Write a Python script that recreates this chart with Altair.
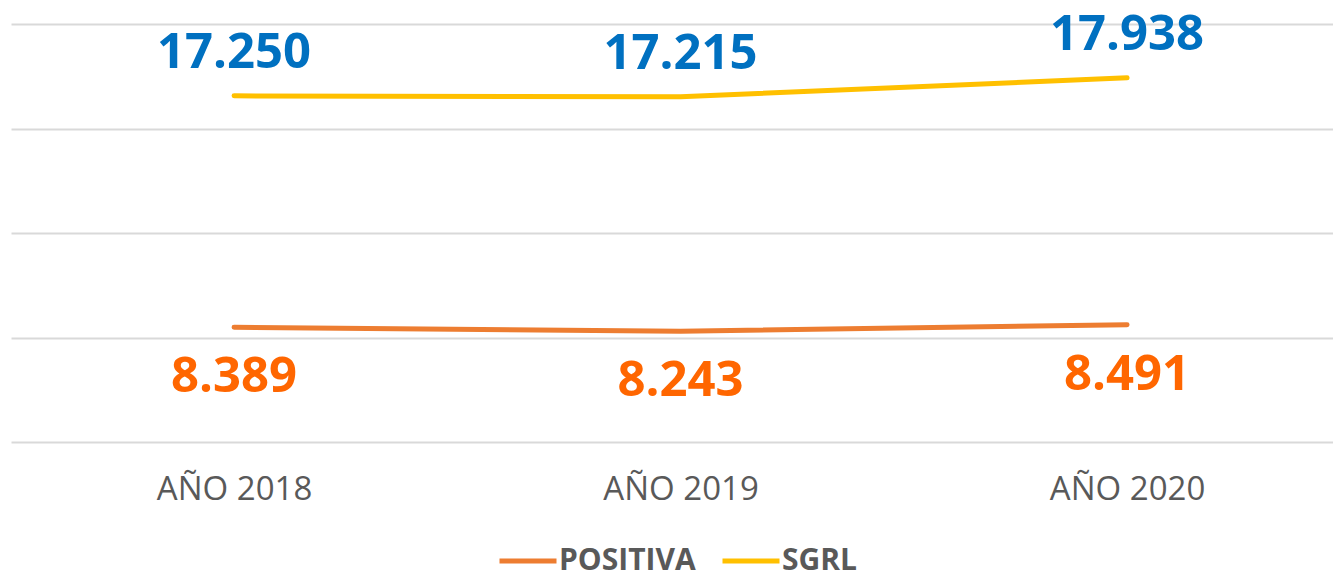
import altair as alt
import pandas as pd

years = ["AÑO 2018", "AÑO 2019", "AÑO 2020"]
positiva = [8389, 8243, 8491]
sgrl = [17250, 17215, 17938]
series_names = ["POSITIVA", "SGRL"]
line_colors = ["#ED7D31", "#FFC000"]
label_colors = ["#FF6600", "#0070C0"]
grid_values = [4000, 8000, 12000, 16000, 20000]


def fmt(v):
    return f"{v:,}".replace(",", ".")


rows = []
for name, vals in zip(series_names, [positiva, sgrl]):
    for yr, v in zip(years, vals):
        rows.append({"year": yr, "series": name, "value": v, "label": fmt(v)})
df = pd.DataFrame(rows)

x = alt.X(
    "year:N",
    sort=years,
    scale=alt.Scale(type="point", padding=0.4804, align=0.52),
    axis=alt.Axis(
        title=None, domain=False, ticks=False, labelFont="Open Sans",
        labelFontSize=33, labelColor="#595959", labelPadding=31, labelAngle=0,
    ),
)
y = alt.Y(
    "value:Q",
    scale=alt.Scale(domain=[4000, 20000], nice=False, zero=False),
    axis=alt.Axis(
        title=None, labels=False, ticks=False, domain=False, values=grid_values,
        gridColor="#D9D9D9", gridWidth=2,
    ),
)

base = alt.Chart(df)

lines = base.mark_line(strokeWidth=5, strokeCap="round", strokeJoin="round").encode(
    x=x,
    y=y,
    color=alt.Color(
        "series:N",
        scale=alt.Scale(domain=series_names, range=line_colors),
        legend=alt.Legend(
            title=None, orient="none", direction="horizontal", legendX=486, legendY=506,
            symbolType="stroke", symbolSize=3249, symbolStrokeWidth=5,
            labelFont="Open Sans", labelFontSize=30, labelFontWeight="bold",
            labelColor="#595959", labelOffset=0, columnPadding=16, padding=0,
        ),
    ),
)

top_labels = base.transform_filter(alt.datum.series == "SGRL").mark_text(
    font="Open Sans", fontWeight="bold", fontSize=49, baseline="alphabetic",
    dy=-28, color=label_colors[1],
).encode(x=x, y=y, text="label:N")

bottom_labels = base.transform_filter(alt.datum.series == "POSITIVA").mark_text(
    font="Open Sans", fontWeight="bold", fontSize=49, baseline="alphabetic",
    dy=65, color=label_colors[0],
).encode(x=x, y=y, text="label:N")

chart = (
    alt.layer(lines, top_labels, bottom_labels)
    .properties(
        width=1322, height=418,
        autosize=alt.AutoSizeParams(type="none"),
        padding={"left": 11, "top": 24, "right": 0, "bottom": 130},
    )
    .configure_view(stroke=None)
)

chart.save("out.html", embed_options={"renderer": "svg", "actions": False})
